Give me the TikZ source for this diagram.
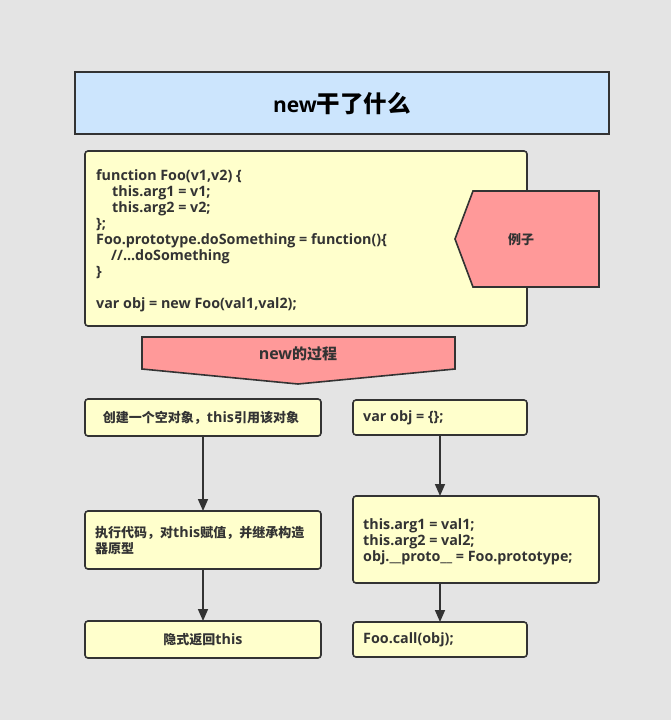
\documentclass[tikz,border=0pt]{standalone}
\usepackage{fontspec}
\setmainfont{Open Sans}
\newfontfamily\cjfont{Noto Sans CJK SC Bold}
\newcommand\cj[2][13]{{\cjfont\fontsize{#1}{16}\selectfont #2}}
\usetikzlibrary{arrows.meta}
\definecolor{bg}{HTML}{E4E4E4}
\definecolor{ttl}{HTML}{CCE5FD}
\definecolor{yel}{HTML}{FFFFCC}
\definecolor{pink}{HTML}{FF9999}
\definecolor{ink}{HTML}{333333}
\tikzset{
  box/.style={draw=ink, line width=1.6pt, fill=yel, rounded corners=3pt, inner sep=0pt},
  txt/.style={text=ink, font=\bfseries\fontsize{14.3}{16}\selectfont, inner sep=0pt},
  flow/.style={draw=ink, line width=1.6pt, -{Triangle[length=12pt,width=10pt]}},
}
\begin{document}
\begin{tikzpicture}[x=1pt,y=-1pt]
\fill[bg] (0,0) rectangle (671,720);
\useasboundingbox (0,0) rectangle (671,720);
% title
\draw[draw=ink, line width=1.6pt, fill=ttl] (75,72) rectangle (609,134);
\node[font=\bfseries\fontsize{21}{24}\selectfont, text=black, inner sep=0pt] (title) at (342,104) {new\cj[23.5]{干了什么}};
% code box
\draw[box] (85,151) rectangle (527,326);
\node[txt, anchor=north west, align=left] (code) at (96,169.5) {function Foo(v1,v2) \{\\
\hspace*{16pt}this.arg1 = v1;\\
\hspace*{16pt}this.arg2 = v2;\\
\};\\
Foo.prototype.doSomething = function()\{\\
\hspace*{15pt}//...doSomething\\
\}\\[16pt]
var obj = new Foo(val1,val2);};
% example pentagon
\draw[draw=ink, line width=1.6pt, fill=pink] (455,239) -- (473,191) -- (599,191) -- (599,287) -- (473,287) -- cycle;
\node[txt] (example) at (521,240) {\cj{例子}};
% new process arrow
\draw[draw=ink, line width=1.6pt, fill=pink] (142,337) -- (455,337) -- (455,369) -- (298,384) -- (142,369) -- cycle;
\node[txt, font=\bfseries\fontsize{16}{18}\selectfont] (proc) at (298,354) {new\cj[15]{的过程}};
% left column
\draw[box] (85,399) rectangle (321,436);
\node[txt] (l1t) at (201,418) {\cj{创建一个空对象，}this\cj{引用该对象}};
\draw[box] (85,511) rectangle (321,569);
\node[txt, anchor=north west, align=left] (l2t) at (95,526.5) {\cj{执行代码，对}this\cj{赋值，并继承构造}\\\cj{器原型}};
\draw[box] (85,621) rectangle (321,658);
\node[txt] (l3t) at (203,640) {\cj{隐式返回}this};
% right column
\draw[box] (353,400) rectangle (527,435);
\node[txt, anchor=west] (r1t) at (363,418) {var obj = \{\};};
\draw[box] (353,496) rectangle (599,583);
\node[txt, anchor=north west, align=left] (r2t) at (363,518.5) {this.arg1 = val1;\\this.arg2 = val2;\\obj.\_\_proto\_\_ = Foo.prototype;};
\draw[box] (353,622) rectangle (527,657);
\node[txt, anchor=west] (r3t) at (363,640) {Foo.call(obj);};
% connectors
\coordinate (a1s) at (203,436);
\coordinate (a1e) at (203,511);
\coordinate (a2s) at (203,569);
\coordinate (a2e) at (203,621);
\coordinate (b1s) at (440,435);
\coordinate (b1e) at (440,496);
\coordinate (b2s) at (440,583);
\coordinate (b2e) at (440,622);
\draw[flow] (a1s) -- (a1e);
\draw[flow] (a2s) -- (a2e);
\draw[flow] (b1s) -- (b1e);
\draw[flow] (b2s) -- (b2e);
\end{tikzpicture}
\end{document}
